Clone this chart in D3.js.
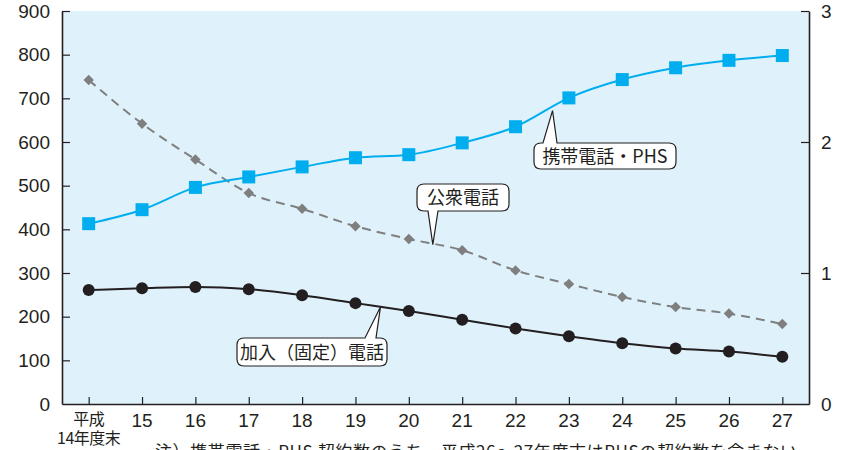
<!DOCTYPE html>
<html><head><meta charset="utf-8">
<script src="https://cdn.jsdelivr.net/npm/d3@7"></script>
<style>
html,body{margin:0;padding:0;background:#fff;}
svg{display:block;}
</style></head>
<body>
<svg id="chart" width="866" height="450"></svg>
<script>
const categories = ["平成\n14年度末","15","16","17","18","19","20","21","22","23","24","25","26","27"];
const mobile = [413, 445, 496, 520, 543, 564, 571, 598, 635, 701, 743, 770, 787, 798];
const publicPhone = [742, 642, 560, 483, 447, 407, 378, 352, 306, 275, 245, 222, 207, 183];
const fixedLine = [261, 265, 268, 263, 249, 231, 213, 193, 173, 155, 139, 127, 120, 108];
const leftTicks = [0,100,200,300,400,500,600,700,800,900];
const rightTicks = [0,1,2,3];
const noteText = "注）携帯電話・PHS 契約数のうち、平成26～27年度末はPHSの契約数を含まない。";

const svg = d3.select("#chart");
const L = 62, R = 809, T = 11, B = 404;
const x = d3.scalePoint().domain(categories).range([L, R]).padding(0.5);
const y = d3.scaleLinear().domain([0, 900]).range([B, T]);
const y2 = d3.scaleLinear().domain([0, 3]).range([B, T]);
const ink = "#231f20";
const numFont = "'Liberation Sans', Arial, sans-serif";
const narrowFont = "'Liberation Sans Narrow', 'Liberation Sans', sans-serif";
const cjkFont = "'Noto Sans CJK JP', 'Noto Sans', sans-serif";

svg.append("rect").attr("x", L).attr("y", T).attr("width", R - L).attr("height", B - T).attr("fill", "#dff2fc");

// axes
const gl = svg.append("g").attr("transform", `translate(${L},0)`)
  .call(d3.axisLeft(y).tickValues(leftTicks).tickSizeInner(-8).tickSizeOuter(0).tickPadding(12));
const gr = svg.append("g").attr("transform", `translate(${R},0)`)
  .call(d3.axisRight(y2).tickValues(rightTicks).tickSizeInner(-8).tickSizeOuter(0).tickPadding(12).tickFormat(d3.format("d")));
const gb = svg.append("g").attr("transform", `translate(0,${B})`)
  .call(d3.axisBottom(x).tickSizeInner(-7).tickSizeOuter(0).tickFormat(""));
[gl, gr, gb].forEach(g => {
  g.selectAll("path.domain").attr("stroke", ink).attr("stroke-width", 1.6);
  g.selectAll(".tick line").attr("stroke", ink).attr("stroke-width", 1.2);
});
gl.selectAll(".tick text").attr("font-family", numFont).attr("font-size", 19).attr("fill", ink);
gr.selectAll(".tick text").attr("font-family", numFont).attr("font-size", 19).attr("fill", ink);
gl.selectAll(".tick").filter(d => d === 0).select("line").remove();
gr.selectAll(".tick").filter(d => d === 0).select("line").remove();

// x labels
const xl = svg.append("g");
categories.forEach(c => {
  const lines = c.split("\n");
  const t = xl.append("text").attr("x", x(c)).attr("y", 427).attr("text-anchor", "middle")
    .attr("fill", ink);
  if (lines.length === 1) {
    t.attr("font-family", narrowFont).attr("font-size", 19).text(c);
  } else {
    t.attr("font-family", cjkFont).attr("font-size", 16).attr("letter-spacing", -0.5);
    t.append("tspan").attr("x", x(c)).attr("y", 425).text(lines[0]);
    t.append("tspan").attr("x", x(c)).attr("y", 444).text(lines[1]);
  }
});

// lines
const curve = d3.curveMonotoneX;
function drawLine(vals, color, dash, width) {
  svg.append("path").datum(vals)
    .attr("d", d3.line().x((d, i) => x(categories[i])).y(d => y(d)).curve(curve))
    .attr("fill", "none").attr("stroke", color).attr("stroke-width", width)
    .attr("stroke-dasharray", dash || null);
}
drawLine(publicPhone, "#7f7f80", "9,6", 2);
drawLine(fixedLine, ink, null, 2);
drawLine(mobile, "#00aeef", null, 2);

// markers
svg.append("g").selectAll("path").data(publicPhone).join("path")
  .attr("transform", (d, i) => `translate(${x(categories[i])},${y(d)})`)
  .attr("d", d3.symbol(d3.symbolDiamond2, 70)()).attr("fill", "#7f7f80");
svg.append("g").selectAll("circle").data(fixedLine).join("circle")
  .attr("cx", (d, i) => x(categories[i])).attr("cy", d => y(d)).attr("r", 6).attr("fill", ink);
svg.append("g").selectAll("rect").data(mobile).join("rect")
  .attr("x", (d, i) => x(categories[i]) - 6.5).attr("y", d => y(d) - 6.5)
  .attr("width", 13).attr("height", 13).attr("fill", "#00aeef");

// callouts
function callout(label, bx, by, bw, bh, baseL, baseR, tipX, tipY, pointerUp) {
  const g = svg.append("g");
  const r = 7;
  let p = "";
  if (!pointerUp) {
    p = `M${bx + r},${by} H${bx + bw - r} Q${bx + bw},${by} ${bx + bw},${by + r} V${by + bh - r} Q${bx + bw},${by + bh} ${bx + bw - r},${by + bh} H${baseR} L${tipX},${tipY} L${baseL},${by + bh} H${bx + r} Q${bx},${by + bh} ${bx},${by + bh - r} V${by + r} Q${bx},${by} ${bx + r},${by} Z`;
  } else {
    p = `M${bx + r},${by} H${baseL} L${tipX},${tipY} L${baseR},${by} H${bx + bw - r} Q${bx + bw},${by} ${bx + bw},${by + r} V${by + bh - r} Q${bx + bw},${by + bh} ${bx + bw - r},${by + bh} H${bx + r} Q${bx},${by + bh} ${bx},${by + bh - r} V${by + r} Q${bx},${by} ${bx + r},${by} Z`;
  }
  g.append("path").attr("d", p).attr("fill", "#fff").attr("stroke", ink).attr("stroke-width", 1.2);
  g.append("text").attr("x", bx + bw / 2).attr("y", by + bh / 2 + 6.5).attr("text-anchor", "middle")
    .attr("font-family", cjkFont).attr("font-size", 18).attr("fill", ink).text(label);
}
callout("公衆電話", 417, 184, 92, 27, 428, 438, x("20") + 24, y(365), false);
callout("携帯電話・PHS", 534, 143, 142, 26, 543, 557, x("22") + 37, y(672), true);
callout("加入（固定）電話", 237, 338, 150, 28, 365, 376, x("19") + 25, y(222), true);

// note
svg.append("text").attr("x", 155).attr("y", 458).attr("font-family", cjkFont).attr("font-size", 17)
  .attr("fill", ink).attr("letter-spacing", 0.6).text(noteText);
</script>
</body></html>
